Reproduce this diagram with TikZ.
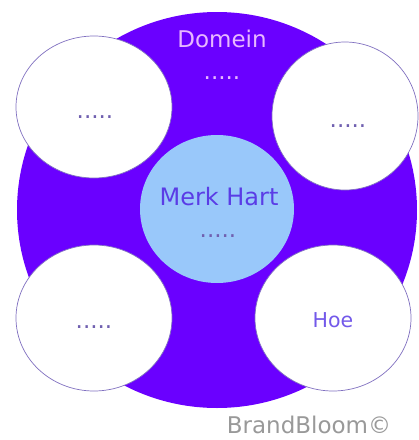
\documentclass[tikz,border=0pt]{standalone}
\usepackage{fontspec}
\setmainfont{DejaVu Sans}
\usetikzlibrary{shapes.geometric}

\begin{document}
\begin{tikzpicture}[x=1pt, y=-1pt]
    % Define colours
    \definecolor{domainColour}{HTML}{6A00FF}
    \definecolor{heartColour}{HTML}{99C8FA}
    \definecolor{rimColour}{HTML}{8070C0}
    \definecolor{domainText}{HTML}{E8B8FF}
    \definecolor{heartText}{HTML}{5A3CE6}
    \definecolor{markColour}{HTML}{7060B0}

    \tikzset{
        disc/.style={ellipse, inner sep=0pt, draw=none},
        bubble/.style={disc, fill=white, draw=rimColour, line width=0.7pt},
        txt/.style={inner sep=0pt, anchor=base, font=\fontsize{23}{27}\selectfont}
    }

    % Fix the margins
    \useasboundingbox (0,0) rectangle (419,440);

    % Draw the domain and the heart
    \node[disc, fill=domainColour, minimum width=400pt, minimum height=396pt] (domein) at (217,210) {};
    \node[disc, fill=heartColour, minimum width=154pt, minimum height=148pt] (hart) at (217,209) {};

    % Draw the four outer circles
    \node[bubble, minimum width=156pt, minimum height=142pt] (linksboven) at (94,107) {};
    \node[bubble, minimum width=146pt, minimum height=148pt] (rechtsboven) at (345,116) {};
    \node[bubble, minimum width=156pt, minimum height=146pt] (linksonder) at (94,318) {};
    \node[bubble, minimum width=156pt, minimum height=146pt] (hoe) at (333,318) {};

    % Labels
    \node[txt, text=domainText] (domeinTitel) at (222,47) {Domein};
    \node[txt, text=domainText] (domeinPunten) at (222,79) {.....};
    \node[txt, text=heartText, font=\fontsize{24}{28}\selectfont] (hartTitel) at (219,205) {Merk Hart};
    \node[txt, text=markColour] (hartPunten) at (218,237) {.....};
    \node[txt, text=markColour] (lbPunten) at (95,118) {.....};
    \node[txt, text=markColour] (rbPunten) at (348,127) {.....};
    \node[txt, text=markColour] (loPunten) at (94,328) {.....};
    \node[txt, text=heartText!85!white, font=\fontsize{20.5}{24}\selectfont] (hoeTitel) at (333,327) {Hoe};
    \node[txt, text=gray!80] (merk) at (309,433) {BrandBloom©};

\end{tikzpicture}
\end{document}
